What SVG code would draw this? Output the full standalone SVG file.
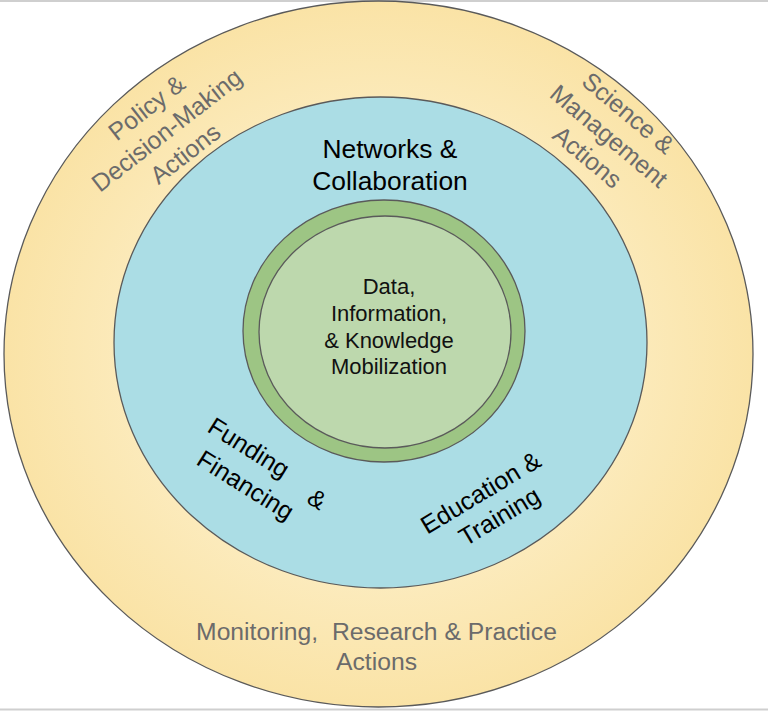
<svg xmlns="http://www.w3.org/2000/svg" width="768" height="712" viewBox="0 0 768 712">
<defs>
<radialGradient id="yel" cx="50%" cy="50%" r="50%">
<stop offset="0%" stop-color="#fdf1cf"/>
<stop offset="60%" stop-color="#fcecc0"/>
<stop offset="100%" stop-color="#fae3a6"/>
</radialGradient>
<style>
.ring{stroke:#5a5a5a;stroke-width:1.3}
.outer{font-family:"Liberation Sans",Arial,sans-serif;font-size:24.7px;fill:#6b6b6b;text-anchor:middle}
.blue{font-family:"Liberation Sans",Arial,sans-serif;font-size:25px;fill:#000}
.core{font-family:"Liberation Sans",Arial,sans-serif;font-size:22px;fill:#111;text-anchor:middle}
</style>
</defs>
<rect x="0" y="0" width="768" height="712" fill="#fff"/>
<line x1="0" y1="1" x2="768" y2="1" stroke="#cfcfcf" stroke-width="2"/>
<line x1="0" y1="709.5" x2="768" y2="709.5" stroke="#cfcfcf" stroke-width="2"/>
<g id="outer-ring">
<ellipse class="ring" cx="378.5" cy="354" rx="374.5" ry="353" fill="url(#yel)"/>
<g class="outer">
<g transform="translate(166.7,130) rotate(-38)">
<text x="-2" y="-21.4">Policy &amp;</text>
<text x="0" y="8.6">Decision-Making</text>
<text x="0" y="38.6">Actions</text>
</g>
<g transform="translate(609,136) rotate(40)">
<text x="0" y="-21.5">Science &amp;</text>
<text x="0" y="8.5">Management</text>
<text x="-3" y="38.5">Actions</text>
</g>
<text x="376.5" y="640" style="white-space:pre">Monitoring,  Research &amp; Practice</text>
<text x="376.5" y="670">Actions</text>
</g>
</g>
<g id="middle-ring">
<ellipse class="ring" cx="380.5" cy="342.5" rx="266.5" ry="245.5" fill="#abdde5"/>
<g class="blue" text-anchor="middle">
<text x="390" y="158" font-size="26.4">Networks &amp;</text>
<text x="390" y="190" font-size="26.4">Collaboration</text>
</g>
<g class="blue" transform="translate(206,431) rotate(32)">
<text x="0" y="0">Funding</text>
<text x="8" y="33.5">Financing</text>
<text x="122" y="7.5">&amp;</text>
</g>
<g class="blue" text-anchor="middle" transform="translate(485,500) rotate(-31)">
<text x="0" y="0">Education &amp;</text>
<text x="4" y="30">Training</text>
</g>
</g>
<g id="core">
<ellipse class="ring" cx="384" cy="331" rx="141" ry="131" fill="#9dc584"/>
<ellipse class="ring" cx="385" cy="332" rx="126" ry="116" fill="#bdd8ad"/>
<g class="core">
<text x="389" y="294">Data,</text>
<text x="389" y="321">Information,</text>
<text x="389" y="348">&amp; Knowledge</text>
<text x="389" y="374">Mobilization</text>
</g>
</g>
<g id="connectors"/>
</svg>
